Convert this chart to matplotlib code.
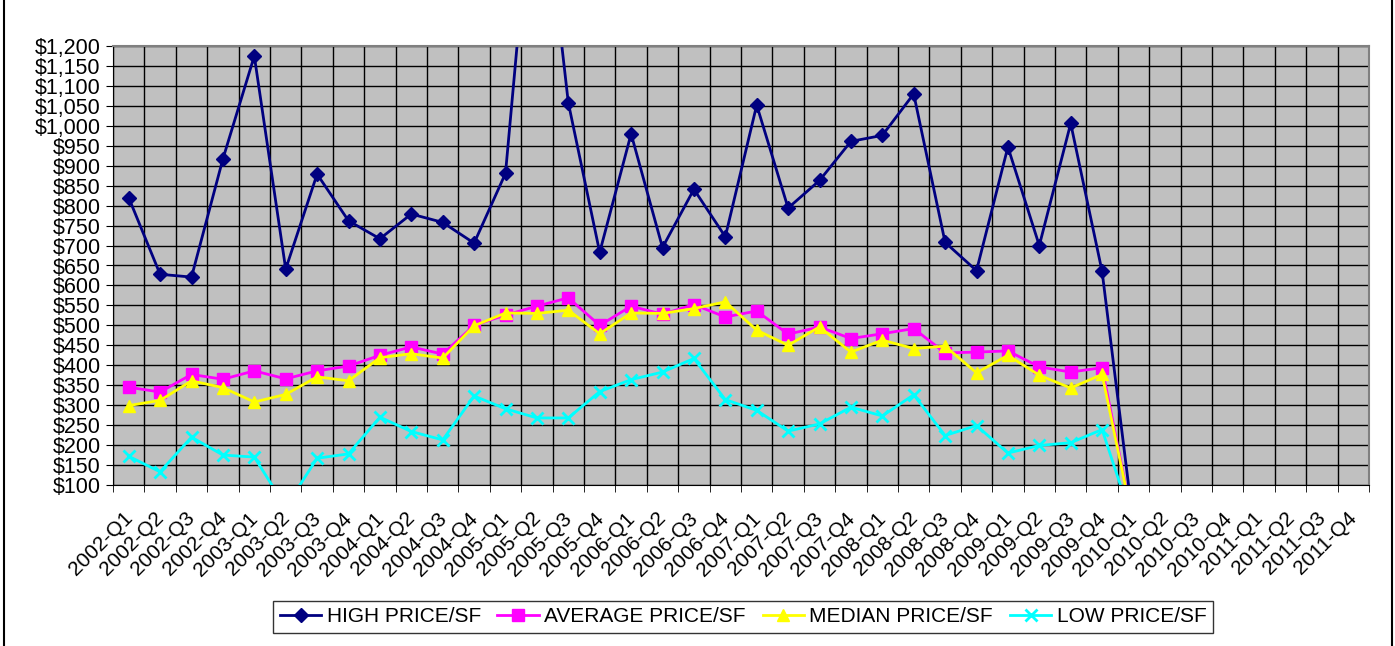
import numpy as np
import matplotlib
matplotlib.use("Agg")
import matplotlib.pyplot as plt
import matplotlib.transforms as mtransforms
from matplotlib.ticker import FuncFormatter

plt.rcParams['font.family'] = ['Liberation Sans', 'DejaVu Sans']

quarters = [f"{y}-Q{q}" for y in range(2002, 2012) for q in range(1, 5)]

nan = np.nan
high_price = [820, 628, 621, 917, 1175, 641, 879, 762, 717, 779, 758, 706,
              881, 1750, 1058, 683, 980, 695, 841, 722, 1052, 794, 863, 961,
              976, 1080, 708, 637, 947, 700, 1006, 635, 0,
              nan, nan, nan, nan, nan, nan, nan]
avg_price = [345, 333, 377, 365, 386, 366, 386, 398, 425, 446, 428, 500,
             526, 548, 569, 500, 548, 528, 552, 521, 536, 478, 496, 467,
             479, 492, 431, 433, 436, 396, 383, 394, 0,
             nan, nan, nan, nan, nan, nan, nan]
median_price = [299, 312, 361, 344, 308, 327, 371, 361, 419, 429, 418, 499,
                 531, 530, 538, 479, 531, 530, 542, 559, 488, 450, 496, 433,
                 463, 442, 448, 381, 425, 375, 343, 377, 0,
                 nan, nan, nan, nan, nan, nan, nan]
low_price = [172, 133, 220, 175, 170, 45, 167, 178, 270, 234, 213, 323,
             291, 268, 268, 334, 364, 383, 417, 314, 287, 235, 253, 295,
             273, 326, 224, 249, 180, 199, 206, 239, 0,
             nan, nan, nan, nan, nan, nan, nan]

fig = plt.figure(figsize=(13.95, 6.46), dpi=100)
ax = fig.add_axes([113 / 1395, 1 - 485 / 646, (1369 - 113) / 1395, (485 - 46) / 646])
ax.set_facecolor('#C0C0C0')

x = np.arange(len(quarters))
ax.plot(x, high_price, color='#000080', lw=2, marker='D', ms=7, label='HIGH PRICE/SF')
ax.plot(x, avg_price, color='#FF00FF', lw=2, marker='s', ms=8, label='AVERAGE PRICE/SF')
ax.plot(x, median_price, color='#FFFF00', lw=2, marker='^', ms=9, label='MEDIAN PRICE/SF')
ax.plot(x, low_price, color='#00FFFF', lw=2, marker='x', ms=9, mew=2, label='LOW PRICE/SF')

ax.set_xlim(-0.5, len(quarters) - 0.5)
ax.set_ylim(100, 1200)
ax.set_yticks(np.arange(100, 1201, 50))
ax.yaxis.set_major_formatter(FuncFormatter(lambda v, p: f"${v:,.0f}"))

ax.set_xticks(x)
ax.set_xticklabels(quarters, rotation=45, ha='right', rotation_mode='anchor')
ax.set_xticks(np.arange(-0.5, len(quarters)), minor=True)
ax.tick_params(axis='x', which='major', length=0, pad=17, labelsize=15)
ax.tick_params(axis='x', which='minor', length=5, color='black')
ax.tick_params(axis='y', length=5, labelsize=15.5, pad=4)

shift = mtransforms.ScaledTranslation(-6 / 100, 0, fig.dpi_scale_trans)
for lab in ax.get_xticklabels():
    lab.set_transform(lab.get_transform() + shift)

ax.grid(True, axis='y', which='major', color='black', lw=1)
ax.grid(True, axis='x', which='minor', color='black', lw=1)
ax.set_axisbelow(True)

for s in ['top', 'right']:
    ax.spines[s].set_color('#808080')
    ax.spines[s].set_linewidth(1.5)
for s in ['left', 'bottom']:
    ax.spines[s].set_color('black')

leg = fig.legend(loc='center', bbox_to_anchor=(743 / 1395, 1 - 617 / 646), ncol=4,
                 fontsize=15, frameon=True, fancybox=False, edgecolor='black',
                 handlelength=2.0, handletextpad=0.25, columnspacing=0.8,
                 borderpad=0.3, borderaxespad=0)
leg.get_frame().set_linewidth(1)

# chart area border lines
fig.add_artist(plt.Line2D([4 / 1395, 4 / 1395], [0, 1], color='black', lw=1.5))
fig.add_artist(plt.Line2D([1392 / 1395, 1392 / 1395], [0, 1], color='black', lw=1.5))

fig.savefig('out.png', dpi=100)
